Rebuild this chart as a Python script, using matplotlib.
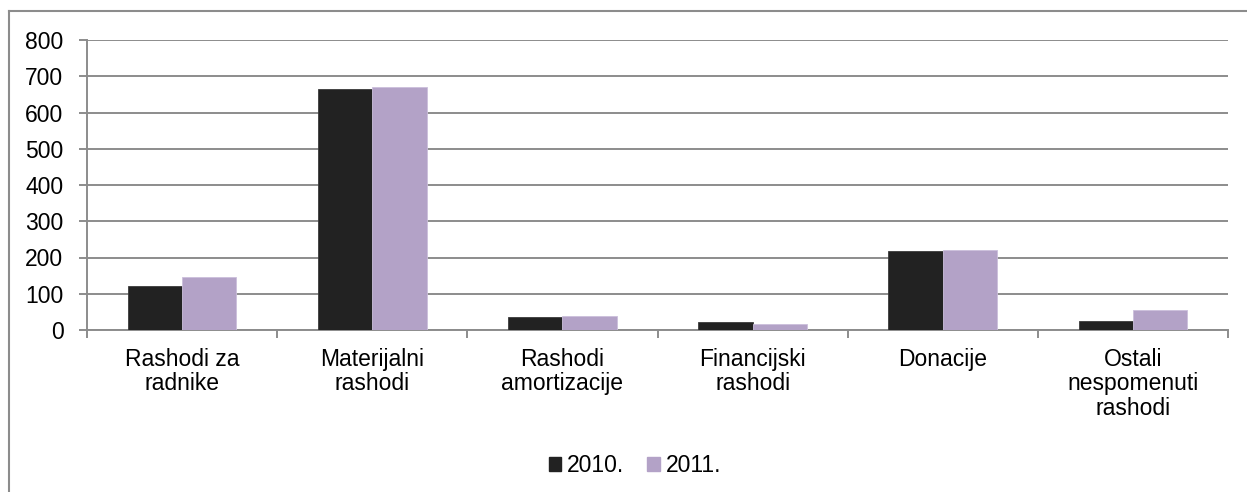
import numpy as np
import matplotlib
matplotlib.use("Agg")
import matplotlib.pyplot as plt
from matplotlib.lines import Line2D
from matplotlib.patches import Patch

categories = ["Rashodi za\nradnike", "Materijalni\nrashodi", "Rashodi\namortizacije",
              "Financijski\nrashodi", "Donacije", "Ostali\nnespomenuti\nrashodi"]
series_names = ["2010.", "2011."]
values_2010 = [121, 666, 36, 21, 219, 25]
values_2011 = [145, 670, 38, 17, 221, 56]
y_ticks = [0, 100, 200, 300, 400, 500, 600, 700, 800]

plt.rcParams["font.family"] = ["Liberation Sans", "DejaVu Sans"]
FS = 16.5

W, H = 1247, 492
fig = plt.figure(figsize=(W / 100, H / 100), dpi=100)
fig.patch.set_facecolor("white")

# chart frame (left and top edges visible)
frame_col = "#8c8c8c"
fig.add_artist(Line2D([9 / W, 1.0], [1 - 11 / H, 1 - 11 / H], color=frame_col, lw=1.5,
                      transform=fig.transFigure))
fig.add_artist(Line2D([9 / W, 9 / W], [1 - 11 / H, 0.0], color=frame_col, lw=1.5,
                      transform=fig.transFigure))

left, right, top, bottom = 87, 1228, 40, 330
ax = fig.add_axes([left / W, 1 - bottom / H, (right - left) / W, (bottom - top) / H])

x = np.arange(len(categories))
bw = 0.286
c10, c11 = "#222222", "#b3a2c7"
ax.bar(x - bw / 2, values_2010, bw, color=c10, edgecolor="#3a3a3a", lw=0.6, zorder=3)
ax.bar(x + bw / 2, values_2011, bw, color=c11, edgecolor="#cbbfdb", lw=0.6, zorder=3)

ax.set_xlim(-0.5, len(categories) - 0.5)
ax.set_ylim(0, 800)
ax.set_yticks(y_ticks)
ax.set_yticklabels([str(v) for v in y_ticks], fontsize=FS)
ax.yaxis.grid(True, color="#8c8c8c", lw=1.4, zorder=0)
ax.set_axisbelow(True)

ax.set_xticks(x)
ax.set_xticklabels(categories, fontsize=FS, linespacing=1.07)
ax.set_xticks(np.arange(-0.5, len(categories)), minor=True)
ax.tick_params(axis="x", which="major", length=0, pad=13)
ax.tick_params(axis="x", which="minor", length=6, width=1.4, color="#8c8c8c")
ax.tick_params(axis="y", length=6, width=1.4, color="#8c8c8c", pad=11)

for s in ["top", "right"]:
    ax.spines[s].set_visible(False)
for s in ["left", "bottom"]:
    ax.spines[s].set_color("#8c8c8c")
    ax.spines[s].set_linewidth(1.4)

handles = [Patch(facecolor=c10, edgecolor=c10), Patch(facecolor=c11, edgecolor=c11)]
fig.legend(handles, series_names, loc="center", bbox_to_anchor=(635 / W, 1 - 466 / H),
           ncol=2, frameon=False, fontsize=FS, handlelength=0.55, handleheight=0.55,
           handletextpad=0.25, columnspacing=1.0, borderpad=0.2)

fig.savefig("out.png", dpi=100)
